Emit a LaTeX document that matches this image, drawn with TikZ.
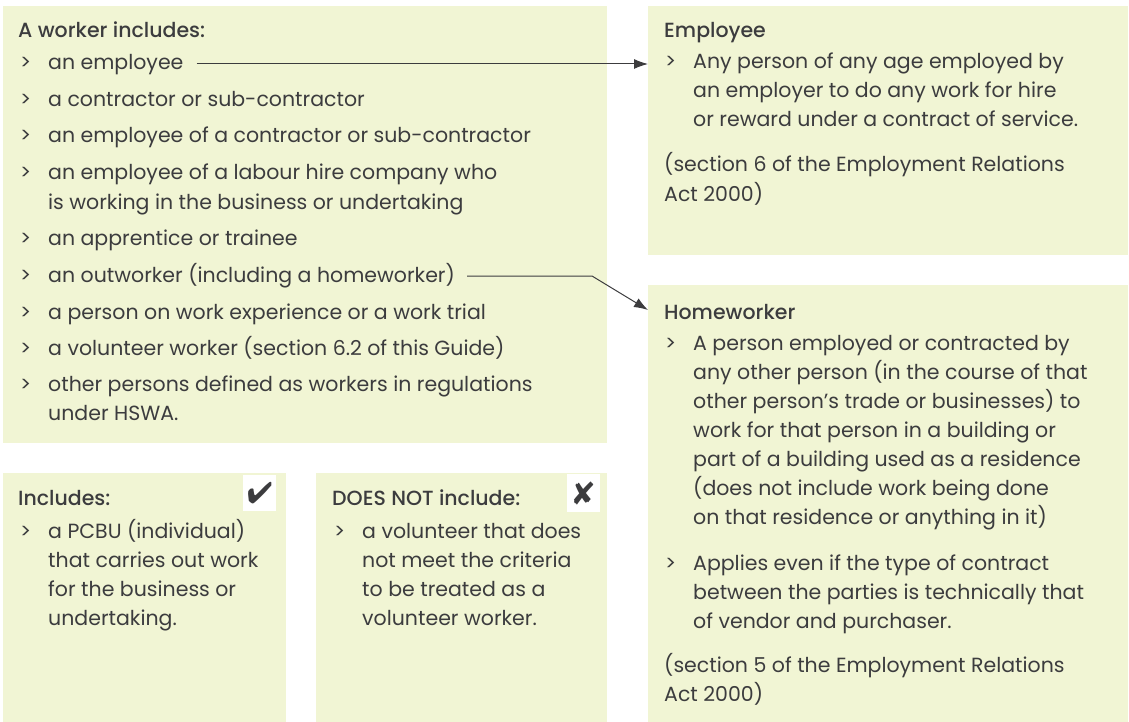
\documentclass[tikz,border=0pt]{standalone}
\usepackage{fontspec}
\setmainfont{Poppins}
\IfFontExistsTF{Poppins Medium}{\newfontfamily\headfont{Poppins Medium}}{\newfontfamily\headfont{Poppins}[FakeBold=1.2]}
\usepackage{pifont}
\usetikzlibrary{arrows.meta}

\definecolor{boxfill}{RGB}{241,245,212}
\definecolor{ink}{RGB}{60,60,62}
\newcommand{\bul}{\llap{\makebox[28pt][l]{>}}}
\newcommand{\lines}[1]{\begin{tabular}[t]{@{}l@{}}#1\end{tabular}}

\begin{document}
\begin{tikzpicture}[x=1pt,y=-1pt,>={Latex[length=14pt,width=10pt]},
    panel/.style={fill=boxfill,anchor=north west,inner sep=0pt},
    txt/.style={anchor=base west,inner sep=0pt,text=ink,
                font=\fontsize{20.5}{29}\selectfont},
    head/.style={txt,font=\headfont\fontsize{20.5}{29}\selectfont},
    markbox/.style={fill=white,anchor=north west,inner sep=0pt},
    glyph/.style={inner sep=0pt,text=ink}]
  \useasboundingbox (0,0) rectangle (1129,722);
  % the five panels
  \node[panel,minimum width=604pt,minimum height=437pt] (worker) at (3,6) {};
  \node[panel,minimum width=283pt,minimum height=249pt] (incl) at (3,473) {};
  \node[panel,minimum width=291pt,minimum height=249pt] (excl) at (316,473) {};
  \node[panel,minimum width=480pt,minimum height=249pt] (emp) at (648,6) {};
  \node[panel,minimum width=480pt,minimum height=437pt] (hw) at (648,285) {};
  % who is a worker
  \node[head] (wtitle) at (18,38) {A worker includes:};
  \foreach \y/\t [count=\i] in {70/{an employee},
      107/{a contractor or sub-contractor},
      143/{an employee of a contractor or sub-contractor},
      180/{an employee of a labour hire company who\\is working in the business or undertaking},
      245/{an apprentice or trainee},
      282/{an outworker (including a homeworker)},
      319/{a person on work experience or a work trial},
      355/{a volunteer worker (section 6.2 of this Guide)},
      391/{other persons defined as workers in regulations\\under HSWA.}}
    \node[txt] (w\i) at (48,\y) {\lines{\bul\t}};
  % includes / does not include
  \node[head] (ititle) at (18,505) {Includes:};
  \node[txt] (iitem) at (48,538) {\lines{\bul a PCBU (individual)\\that carries out work\\for the business or\\undertaking.}};
  \node[markbox,minimum width=33pt,minimum height=36pt] (tickbox) at (243,475) {};
  \node[glyph,font=\fontsize{30}{30}\selectfont] (tick) at (tickbox.center) {\ding{52}};
  \node[head] (xtitle) at (332,505) {DOES NOT include:};
  \node[txt] (xitem) at (362,538) {\lines{\bul a volunteer that does\\not meet the criteria\\to be treated as a\\volunteer worker.}};
  \node[markbox,minimum width=33pt,minimum height=38pt] (crossbox) at (567,474) {};
  \node[glyph,font=\fontsize{32}{32}\selectfont] (cross) at (crossbox.center) {\ding{56}};
  % definitions
  \node[head] (etitle) at (664,38) {Employee};
  \node[txt] (eitem) at (693,69) {\lines{\bul Any person of any age employed by\\an employer to do any work for hire\\or reward under a contract of service.}};
  \node[txt] (esrc) at (664,172) {\lines{(section 6 of the Employment Relations\\Act 2000)}};
  \node[head] (htitle) at (664,319) {Homeworker};
  \node[txt] (hitem1) at (693,350) {\lines{\bul A person employed or contracted by\\any other person (in the course of that\\other person’s trade or businesses) to\\work for that person in a building or\\part of a building used as a residence\\(does not include work being done\\on that residence or anything in it)}};
  \node[txt] (hitem2) at (693,570) {\lines{\bul Applies even if the type of contract\\between the parties is technically that\\of vendor and purchaser.}};
  \node[txt] (hsrc) at (664,672) {\lines{(section 5 of the Employment Relations\\Act 2000)}};
  % connectors
  \coordinate (e1) at ([xshift=13pt,yshift=6pt]w1.base east);
  \draw[ink,line width=1pt,->] (e1) -- (e1 -| emp.west);
  \coordinate (e6) at ([xshift=12pt,yshift=6pt]w6.base east);
  \coordinate (kink) at (592,0);
  \coordinate (hwin) at ([yshift=-25pt]hw.north west);
  \draw[ink,line width=1pt,->] (e6) -- (e6 -| kink) -- (hwin);
\end{tikzpicture}
\end{document}
